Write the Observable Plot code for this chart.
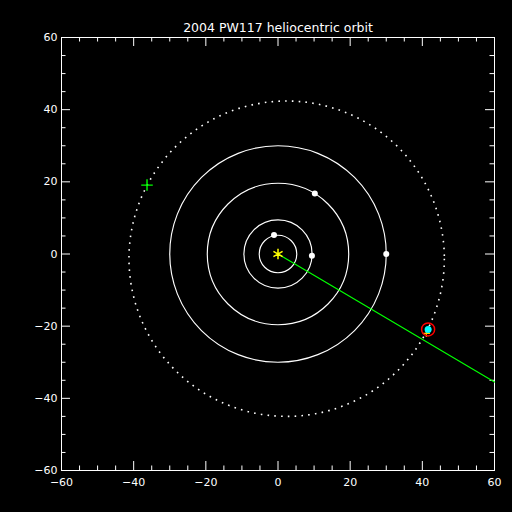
<!DOCTYPE html>
<html>
<head>
<meta charset="utf-8">
<script src="https://cdn.jsdelivr.net/npm/d3@7"></script>
<script src="https://cdn.jsdelivr.net/npm/@observablehq/plot@0.6"></script>
<style>
  html, body { margin: 0; padding: 0; background: #000; }
  #chart { width: 512px; height: 512px; }
</style>
</head>
<body>
<div id="chart"></div>
<script>
const titleText = "2004 PW117 heliocentric orbit";
const majorTicks = [-60, -40, -20, 0, 20, 40, 60];
const minorTicks = [-55, -50, -45, -35, -30, -25, -15, -10, -5, 5, 10, 15, 25, 30, 35, 45, 50, 55];

// planet orbits (radius, AU)
const orbitNames = ["Jupiter", "Saturn", "Uranus", "Neptune"];
const orbitRadii = [5.2, 9.45, 19.6, 30.0];
// planet positions (AU)
const planetX = [-1.1, 9.4, 10.2, 30.0];
const planetY = [5.3, -0.5, 16.8, 0.0];

// object orbit (dotted), nearly circular
const objOrbitCenter = [2.4, -1.3];
const objOrbitRadius = 43.7;
// object position
const objX = [41.6];
const objY = [-20.9];
const objMarkX = [41.1];
const objMarkY = [-22.0];
// green line (from sun)
const lineX = [0, 60];
const lineY = [0, -35.5];
// green plus
const plusX = [-36.3];
const plusY = [19.1];

const orbits = orbitNames.map((n, i) => ({name: n, x: 0, y: 0, r: orbitRadii[i]}));
const planets = planetX.map((x, i) => ({x, y: planetY[i]}));
const line = lineX.map((x, i) => ({x, y: lineY[i]}));

const W = 512, H = 512;
const mL = 61, mR = 18, mT = 37, mB = 42;
const pxPerUnit = (W - mL - mR) / 120;
const majLen = 9 / pxPerUnit, minLen = 4.5 / pxPerUnit;
const fmt = d => d < 0 ? "\u2212" + Math.abs(d) : String(d);

const chart = Plot.plot({
  width: W, height: H,
  marginLeft: mL, marginRight: mR, marginTop: mT, marginBottom: mB,
  style: {background: "#000", color: "#fff", fontFamily: "DejaVu Sans, sans-serif", fontSize: "11px"},
  x: {domain: [-60, 60], axis: null, label: null},
  y: {domain: [-60, 60], axis: null, label: null},
  r: {type: "linear", domain: [0, 60], range: [0, 60 * pxPerUnit]},
  marks: [
    Plot.frame({stroke: "#fff", strokeWidth: 1}),
    // major ticks
    Plot.ruleX(majorTicks, {x: d => d, y1: -60, y2: -60 + majLen, stroke: "#fff"}),
    Plot.ruleX(majorTicks, {x: d => d, y1: 60, y2: 60 - majLen, stroke: "#fff"}),
    Plot.ruleY(majorTicks, {y: d => d, x1: -60, x2: -60 + majLen, stroke: "#fff"}),
    Plot.ruleY(majorTicks, {y: d => d, x1: 60, x2: 60 - majLen, stroke: "#fff"}),
    // minor ticks
    Plot.ruleX(minorTicks, {x: d => d, y1: -60, y2: -60 + minLen, stroke: "#fff"}),
    Plot.ruleX(minorTicks, {x: d => d, y1: 60, y2: 60 - minLen, stroke: "#fff"}),
    Plot.ruleY(minorTicks, {y: d => d, x1: -60, x2: -60 + minLen, stroke: "#fff"}),
    Plot.ruleY(minorTicks, {y: d => d, x1: 60, x2: 60 - minLen, stroke: "#fff"}),
    // tick labels
    Plot.axisX(majorTicks, {anchor: "bottom", tickSize: 0, tickPadding: 8, fill: "#fff", fontSize: 11,
      label: null, tickFormat: fmt}),
    Plot.axisY(majorTicks, {anchor: "left", tickSize: 0, tickPadding: 4, fill: "#fff", fontSize: 11,
      label: null, tickFormat: fmt}),
    // planet orbits
    Plot.dot(orbits, {x: "x", y: "y", r: "r", stroke: "#fff", strokeWidth: 1.15, fill: "none"}),
    // object orbit, dotted
    Plot.dot([{x: objOrbitCenter[0], y: objOrbitCenter[1], r: objOrbitRadius}],
      {x: "x", y: "y", r: "r", stroke: "#fff", strokeWidth: 1.6, fill: "none", strokeDasharray: "1.6 5.2"}),
    // green line
    Plot.line(line, {x: "x", y: "y", stroke: "#00ff00", strokeWidth: 1.2}),
    // planets
    Plot.dot(planets, {x: "x", y: "y", r: 3, fill: "#fff"}),
    // sun
    Plot.dot([{x: 0, y: 0}], {x: "x", y: "y", symbol: "asterisk", r: 5, stroke: "#ffff00", strokeWidth: 1.5}),
    // green plus
    Plot.dot([{x: plusX[0], y: plusY[0]}], {x: "x", y: "y", symbol: "plus", r: 3.8, stroke: "#00ff00", strokeWidth: 1.4}),
    // object
    Plot.dot([{x: objMarkX[0], y: objMarkY[0]}], {x: "x", y: "y", symbol: "plus", r: 2.5, stroke: "#ffcc00", strokeWidth: 1.2}),
    Plot.dot([{x: objX[0], y: objY[0]}], {x: "x", y: "y", r: 3.5, fill: "#00ffff"}),
    Plot.dot([{x: objX[0], y: objY[0]}], {x: "x", y: "y", r: 6.5, stroke: "#ff0000", strokeWidth: 1.5, fill: "none"}),
    // title
    Plot.text([titleText], {frameAnchor: "top", dy: -14, fill: "#fff", fontSize: 12.5, text: d => d})
  ]
});
document.getElementById("chart").appendChild(chart);
</script>
</body>
</html>
